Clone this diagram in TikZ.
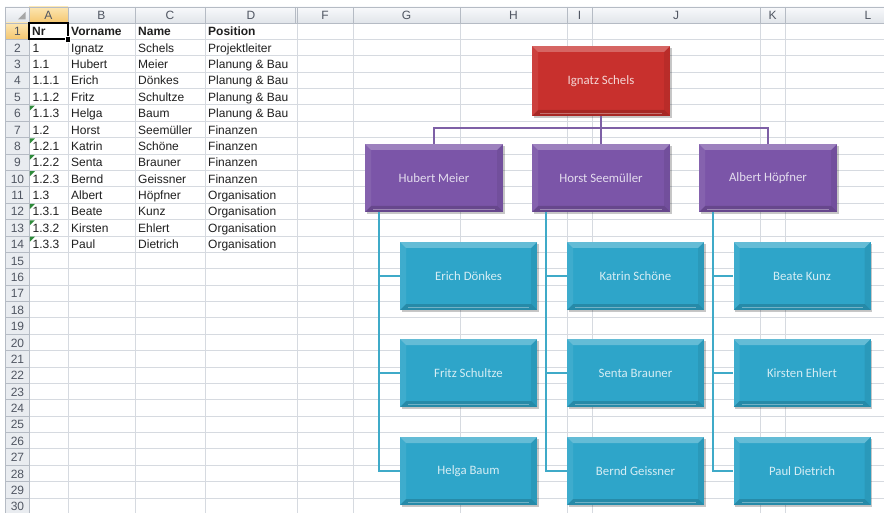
\documentclass[tikz,border=0pt]{standalone}
\usepackage{fontspec}
\setmainfont{Liberation Sans}
\newfontfamily\carlito{Carlito}
\usetikzlibrary{shadows,calc}
\definecolor{gridc}{HTML}{D6DAE0}
\definecolor{hdrtop}{HTML}{F8F9FB}
\definecolor{hdrbot}{HTML}{E1E5EA}
\definecolor{rowhdr}{HTML}{E9ECF0}
\definecolor{hdrline}{HTML}{B5BBC4}
\definecolor{seltop}{HTML}{FCE6B2}
\definecolor{selbot}{HTML}{F5C66E}
\definecolor{hdrtext}{HTML}{505662}
\definecolor{errgreen}{HTML}{2E8B3A}
\definecolor{boxred}{HTML}{C8302D}
\definecolor{boxpurple}{HTML}{7B55A8}
\definecolor{boxcyan}{HTML}{2EA5C9}
\definecolor{linepurple}{HTML}{7E60A6}
\definecolor{linecyan}{HTML}{3FAAC8}
\tikzset{
  bevelpic/.style={path picture={
    \path (path picture bounding box.south west) coordinate (bsw)
          (path picture bounding box.north east) coordinate (bne);
    \fill[white,opacity=.26] (bsw|-bne) -- (bne) -- ([shift={(-6pt,-6pt)}]bne) -- ([shift={(6pt,-6pt)}]bsw|-bne) -- cycle;
    \fill[white,opacity=.08] (bsw) -- (bsw|-bne) -- ([shift={(6pt,-6pt)}]bsw|-bne) -- ([shift={(6pt,6pt)}]bsw) -- cycle;
    \fill[black,opacity=.07] (bne) -- (bne|-bsw) -- ([shift={(-6pt,6pt)}]bne|-bsw) -- ([shift={(-6pt,-6pt)}]bne) -- cycle;
    \fill[black,opacity=.16] (bsw) -- (bne|-bsw) -- ([shift={(-6pt,6pt)}]bne|-bsw) -- ([shift={(6pt,6pt)}]bsw) -- cycle;
    \draw[white,opacity=.35,line width=.8pt] ([shift={(8pt,3pt)}]bsw) -- ([shift={(-8pt,3pt)}]bne|-bsw);
  }},
  orgbox/.style={minimum width=138pt, minimum height=68pt, inner sep=0pt,
    fill=#1, text=white!80!#1, font=\carlito\fontsize{12.8}{15}\selectfont,
    bevelpic, drop shadow={shadow xshift=1.5pt, shadow yshift=-2pt, opacity=.22, fill=black}},
  cyanbox/.style={orgbox=boxcyan, minimum width=137pt},
  pconn/.style={draw=linepurple, line width=1.8pt},
  cconn/.style={draw=linecyan, line width=1.8pt},
  celltxt/.style={anchor=base west, inner sep=0pt, font=\fontsize{12}{14}\selectfont, text=black!88},
  hdrtxt/.style={anchor=base, inner sep=0pt, font=\fontsize{12}{14}\selectfont, text=hdrtext},
}
\begin{document}
\begin{tikzpicture}[x=1pt,y=-1pt]
\useasboundingbox (0,0) rectangle (884,513);
\clip (0,0) rectangle (884,513);
\fill[white] (0,0) rectangle (884,513);
% grid
\foreach \k in {1,...,30} \draw[gridc,line width=.8pt] (29,{23+\k*16.38}) -- (884,{23+\k*16.38});
\foreach \xx in {68,135,205,297,353,460,567,592,760,785} \draw[gridc,line width=.8pt] (\xx,23) -- (\xx,513);
% column header
\shade[top color=hdrtop,bottom color=hdrbot] (5,7) rectangle (884,23);
\shade[top color=seltop,bottom color=selbot] (29,7) rectangle (68,23);
\fill[rowhdr] (5,23) rectangle (29,513);
\shade[top color=seltop,bottom color=selbot] (5,23) rectangle (29,39.38);
\foreach \xx in {29,68,135,205,297,353,460,567,592,760,785} \draw[hdrline,line width=.8pt] (\xx,7) -- (\xx,23);
\draw[hdrline,line width=.8pt] (295.5,7) -- (295.5,23);
\foreach \k in {1,...,30} \draw[hdrline,line width=.8pt] (5,{23+\k*16.38}) -- (29,{23+\k*16.38});
\draw[hdrline,line width=.8pt] (5,7) -- (884,7);
\draw[hdrline,line width=.8pt] (5,23) -- (884,23);
\draw[hdrline,line width=.8pt] (5,7) -- (5,513);
\draw[hdrline,line width=.8pt] (29,7) -- (29,513);
\fill[black!35] (25.5,12) -- (25.5,19.5) -- (18,19.5) -- cycle;
% column letters
\foreach \L/\cx in {A/48.5,B/101.5,C/170,D/251,F/325,G/406.5,H/513.5,I/579.5,J/676,K/772.5,L/868}
  \node[hdrtxt] (h\L) at (\cx,19.3) {\L};
% row numbers
\foreach \k in {1,...,30}
  \node[hdrtxt] (r\k) at (17.5,{23+\k*16.38-3.6}) {\k};
% header row
\node[celltxt,font=\bfseries\fontsize{12}{14}\selectfont] (a1) at (32,{23+16.38-3.6}) {Nr};
\node[celltxt,font=\bfseries\fontsize{12}{14}\selectfont] (b1) at (71,{23+16.38-3.6}) {Vorname};
\node[celltxt,font=\bfseries\fontsize{12}{14}\selectfont] (c1) at (138,{23+16.38-3.6}) {Name};
\node[celltxt,font=\bfseries\fontsize{12}{14}\selectfont] (d1) at (208,{23+16.38-3.6}) {Position};
% data rows
\foreach \r/\a/\b/\c/\d in {
  2/1/Ignatz/Schels/Projektleiter,
  3/1.1/Hubert/Meier/Planung \& Bau,
  4/1.1.1/Erich/Dönkes/Planung \& Bau,
  5/1.1.2/Fritz/Schultze/Planung \& Bau,
  6/1.1.3/Helga/Baum/Planung \& Bau,
  7/1.2/Horst/Seemüller/Finanzen,
  8/1.2.1/Katrin/Schöne/Finanzen,
  9/1.2.2/Senta/Brauner/Finanzen,
  10/1.2.3/Bernd/Geissner/Finanzen,
  11/1.3/Albert/Höpfner/Organisation,
  12/1.3.1/Beate/Kunz/Organisation,
  13/1.3.2/Kirsten/Ehlert/Organisation,
  14/1.3.3/Paul/Dietrich/Organisation}{
  \node[celltxt] (a\r) at (32.5,{23+\r*16.38-3.6}) {\a};
  \node[celltxt] (b\r) at (71,{23+\r*16.38-3.6}) {\b};
  \node[celltxt] (c\r) at (138,{23+\r*16.38-3.6}) {\c};
  \node[celltxt] (d\r) at (208,{23+\r*16.38-3.6}) {\d};
}
% error indicators
\foreach \r in {6,8,9,10,12,13,14}
  \fill[errgreen] (29.8,{23+(\r-1)*16.38+0.8}) -- ++(5,0) -- ++(-5,5) -- cycle;
% selection of A1
\draw[black,line width=2pt] (29,23) rectangle (68,39.38);
\filldraw[fill=black,draw=white,line width=.7pt] (65,36.6) rectangle (70.5,42.1);
% org chart
\node[orgbox=boxred, minimum height=70pt] (n1) at (601,81) {Ignatz Schels};
\node[orgbox=boxpurple] (n11) at (434,178) {Hubert Meier};
\node[orgbox=boxpurple] (n12) at (601,178) {Horst Seemüller};
\node[orgbox=boxpurple] (n13) at (768,178) {Albert Höpfner};
\node[cyanbox] (n111) at (468.5,276) {Erich Dönkes};
\node[cyanbox] (n112) at (468.5,373) {Fritz Schultze};
\node[cyanbox] (n113) at (468.5,471) {Helga Baum};
\node[cyanbox] (n121) at (635.5,276) {Katrin Schöne};
\node[cyanbox] (n122) at (635.5,373) {Senta Brauner};
\node[cyanbox] (n123) at (635.5,471) {Bernd Geissner};
\node[cyanbox] (n131) at (802,276) {Beate Kunz};
\node[cyanbox] (n132) at (802,373) {Kirsten Ehlert};
\node[cyanbox] (n133) at (802,471) {Paul Dietrich};
% purple connectors
\coordinate (bus) at (601,128);
\draw[pconn] (n1.south) -- (n1.south |- bus);
\draw[pconn] (n11.north) |- (bus -| n13.north) -- (n13.north);
\draw[pconn] (n12.north) -- (n12.north |- bus);
% cyan connectors
\foreach \p in {11,12,13}{
  \coordinate (v\p) at ([xshift=14pt]n\p.south west);
  \draw[cconn] (v\p) |- (n\p3.west);
  \draw[cconn] (v\p |- n\p1.west) -- (n\p1.west);
  \draw[cconn] (v\p |- n\p2.west) -- (n\p2.west);
}
\end{tikzpicture}
\end{document}
